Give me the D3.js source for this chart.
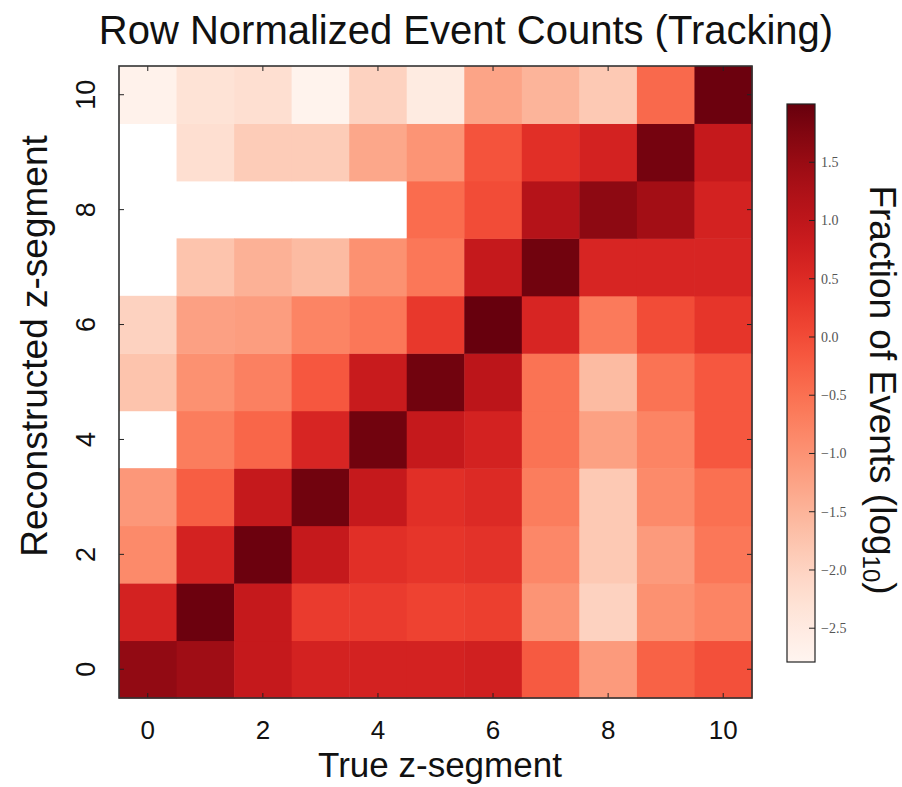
<!DOCTYPE html>
<html>
<head>
<meta charset="utf-8">
<script src="https://cdn.jsdelivr.net/npm/d3@7"></script>
<style>
  body { margin: 0; background: #fff; }
  text { font-family: "Liberation Sans", Arial, sans-serif; }
</style>
</head>
<body>
<svg width="902" height="787"></svg>
<script>
// z-segments (true along x, reconstructed along y)
var segments = d3.range(11);
var xTicks = [0, 2, 4, 6, 8, 10];
var yTicks = [0, 2, 4, 6, 8, 10];
var cbTicks = [-2.5, -2.0, -1.5, -1.0, -0.5, 0.0, 0.5, 1.0, 1.5];

// log10 fraction of events, one array per reconstructed segment (row), null = no events
var row0  = [1.57, 1.43, 0.90, 0.66, 0.66, 0.66, 0.71, -0.20, -1.11, -0.30, -0.06];
var row1  = [0.66, 1.95, 0.90, 0.23, 0.23, 0.13, 0.18, -1.02, -1.98, -0.97, -0.78];
var row2  = [-0.87, 0.66, 1.95, 0.90, 0.42, 0.32, 0.37, -0.83, -1.83, -1.11, -0.59];
var row3  = [-1.07, -0.25, 0.90, 1.90, 0.90, 0.42, 0.51, -0.68, -1.83, -0.87, -0.49];
var row4  = [null, -0.68, -0.35, 0.60, 1.90, 0.90, 0.66, -0.54, -1.21, -0.78, -0.16];
var row5  = [-1.74, -0.97, -0.73, -0.16, 0.85, 1.90, 1.04, -0.54, -1.60, -0.54, -0.16];
var row6  = [-1.98, -1.20, -1.16, -0.78, -0.59, 0.28, 2.00, 0.60, -0.64, -0.01, 0.32];
var row7  = [null, -1.74, -1.45, -1.60, -0.97, -0.59, 0.90, 1.90, 0.60, 0.60, 0.60];
var row8  = [null, null, null, null, null, -0.44, -0.01, 1.14, 1.62, 1.38, 0.66];
var row9  = [null, -2.22, -1.88, -1.88, -1.30, -1.02, -0.10, 0.42, 0.66, 1.86, 0.90];
var row10 = [-2.70, -2.31, -2.22, -2.74, -1.98, -2.50, -1.26, -1.50, -1.83, -0.40, 1.95];
var rows = [row0, row1, row2, row3, row4, row5, row6, row7, row8, row9, row10];

var colorMin = -2.79, colorMax = 2.0;

var svg = d3.select("svg");
var margin = {left: 119, top: 66},
    width = 633,
    height = 632;

var x = d3.scaleLinear().domain([-0.5, 10.5]).range([0, width]);
var y = d3.scaleLinear().domain([-0.5, 10.5]).range([height, 0]);
var color = d3.scaleSequential(d3.interpolateReds).domain([colorMin, colorMax]);

var cells = [];
rows.forEach(function(r, j) {
  r.forEach(function(v, i) {
    if (v !== null) cells.push({x: segments[i], y: segments[j], v: v});
  });
});

var g = svg.append("g").attr("transform", "translate(" + margin.left + "," + margin.top + ")");

g.selectAll("rect.cell")
  .data(cells)
  .enter().append("rect")
    .attr("class", "cell")
    .attr("x", function(d) { return x(d.x - 0.5); })
    .attr("y", function(d) { return y(d.y + 0.5); })
    .attr("width", x(0.5) - x(-0.5) + 0.5)
    .attr("height", y(-0.5) - y(0.5) + 0.5)
    .attr("fill", function(d) { return color(d.v); });

// ticks on all four sides, pointing inwards
var tickLen = 5;
var axisColor = "#222";
g.append("g").selectAll("line").data(xTicks).enter().append("line")
  .attr("x1", function(d) { return x(d); }).attr("x2", function(d) { return x(d); })
  .attr("y1", height).attr("y2", height - tickLen)
  .attr("stroke", axisColor).attr("stroke-width", 1);
g.append("g").selectAll("line").data(xTicks).enter().append("line")
  .attr("x1", function(d) { return x(d); }).attr("x2", function(d) { return x(d); })
  .attr("y1", 0).attr("y2", tickLen)
  .attr("stroke", axisColor).attr("stroke-width", 1);
g.append("g").selectAll("line").data(yTicks).enter().append("line")
  .attr("y1", function(d) { return y(d); }).attr("y2", function(d) { return y(d); })
  .attr("x1", 0).attr("x2", tickLen)
  .attr("stroke", axisColor).attr("stroke-width", 1);
g.append("g").selectAll("line").data(yTicks).enter().append("line")
  .attr("y1", function(d) { return y(d); }).attr("y2", function(d) { return y(d); })
  .attr("x1", width).attr("x2", width - tickLen)
  .attr("stroke", axisColor).attr("stroke-width", 1);

g.append("rect")
  .attr("width", width).attr("height", height)
  .attr("fill", "none").attr("stroke", "#333").attr("stroke-width", 1.6);

// tick labels
g.selectAll("text.xt").data(xTicks).enter().append("text")
  .attr("class", "xt")
  .attr("x", function(d) { return x(d); })
  .attr("y", height + 41)
  .attr("text-anchor", "middle")
  .attr("font-size", 26)
  .attr("fill", "#111")
  .text(function(d) { return d; });

g.selectAll("text.yt").data(yTicks).enter().append("text")
  .attr("class", "yt")
  .attr("transform", function(d) { return "translate(-24," + y(d) + ") rotate(-90)"; })
  .attr("text-anchor", "middle")
  .attr("font-size", 27)
  .attr("fill", "#111")
  .text(function(d) { return d; });

// axis titles
svg.append("text")
  .attr("x", 440)
  .attr("y", 777)
  .attr("text-anchor", "middle")
  .attr("font-size", 35)
  .attr("fill", "#111")
  .text("True z-segment");

svg.append("text")
  .attr("transform", "translate(47,346) rotate(-90)")
  .attr("text-anchor", "middle")
  .attr("font-size", 37)
  .attr("fill", "#111")
  .text("Reconstructed z-segment");

svg.append("text")
  .attr("x", 466)
  .attr("y", 44)
  .attr("text-anchor", "middle")
  .attr("font-size", 40)
  .attr("fill", "#111")
  .text("Row Normalized Event Counts (Tracking)");

// colorbar
var cb = {x: 787, y: 104, w: 28, h: 558};
var cy = d3.scaleLinear().domain([colorMin, colorMax]).range([cb.y + cb.h, cb.y]);

var defs = svg.append("defs");
var grad = defs.append("linearGradient")
  .attr("id", "cbgrad")
  .attr("x1", "0").attr("y1", "1").attr("x2", "0").attr("y2", "0");
grad.selectAll("stop")
  .data(d3.range(0, 1.0001, 0.05))
  .enter().append("stop")
    .attr("offset", function(t) { return t; })
    .attr("stop-color", function(t) { return color(colorMin + t * (colorMax - colorMin)); });

svg.append("rect")
  .attr("x", cb.x).attr("y", cb.y).attr("width", cb.w).attr("height", cb.h)
  .attr("fill", "url(#cbgrad)")
  .attr("stroke", "#222").attr("stroke-width", 1.2);

svg.append("g").selectAll("line").data(cbTicks).enter().append("line")
  .attr("x1", cb.x + cb.w - 6).attr("x2", cb.x + cb.w)
  .attr("y1", function(d) { return cy(d); }).attr("y2", function(d) { return cy(d); })
  .attr("stroke", "#222").attr("stroke-width", 1);

svg.append("g").selectAll("text").data(cbTicks).enter().append("text")
  .attr("x", cb.x + cb.w + 6)
  .attr("y", function(d) { return cy(d) + 5; })
  .attr("font-size", 14)
  .attr("fill", "#555")
  .style("font-family", "'Liberation Serif', 'DejaVu Serif', serif")
  .text(function(d) { return d3.format(".1f")(d).replace("-", "\u2212"); });

var cbl = svg.append("text")
  .attr("transform", "translate(870,390) rotate(90)")
  .attr("text-anchor", "middle")
  .attr("font-size", 37)
  .attr("fill", "#111");
cbl.append("tspan").text("Fraction of Events (log");
cbl.append("tspan").attr("font-size", 24).attr("dy", 7).text("10");
cbl.append("tspan").attr("dy", -7).text(")");
</script>
</body>
</html>
